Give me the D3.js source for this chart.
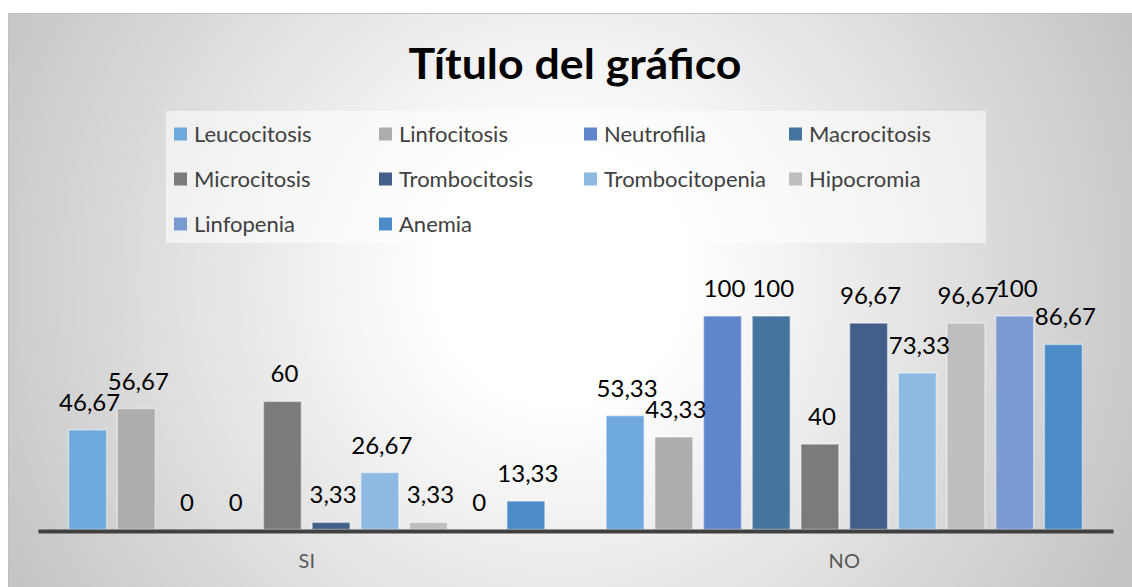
<!DOCTYPE html>
<html><head><meta charset="utf-8">
<script src="https://cdn.jsdelivr.net/npm/d3@7"></script>
<style>html,body{margin:0;padding:0;background:#fff;}svg{display:block;}</style>
</head><body>
<svg id="chart" width="1132" height="587"></svg>
<script>
const categories = ["SI", "NO"];
const seriesNames = ["Leucocitosis","Linfocitosis","Neutrofilia","Macrocitosis","Microcitosis","Trombocitosis","Trombocitopenia","Hipocromia","Linfopenia","Anemia"];
const valuesSI = [46.67, 56.67, 0, 0, 60, 3.33, 26.67, 3.33, 0, 13.33];
const valuesNO = [53.33, 43.33, 100, 100, 40, 96.67, 73.33, 96.67, 100, 86.67];
const seriesColors = ["#6FA8DC","#ADADAD","#5F86CB","#45749F","#7B7B7B","#445E8A","#8DB9E2","#BEBEBE","#7A9BD2","#4B8BC8"];
const titleText = "Título del gráfico";

const svg = d3.select("#chart");
const W = 1132, H = 587;
const font = "Lato, 'Open Sans', sans-serif";

// background
const defs = svg.append("defs");
const rg = defs.append("radialGradient").attr("id","bg").attr("gradientUnits","userSpaceOnUse")
  .attr("cx",560).attr("cy",280).attr("r",620);
rg.append("stop").attr("offset","0").attr("stop-color","#ffffff");
rg.append("stop").attr("offset","0.2").attr("stop-color","#ffffff");
rg.append("stop").attr("offset","1").attr("stop-color","#c5c5c5");
svg.append("rect").attr("x",8.5).attr("y",13.5).attr("width",W).attr("height",H)
  .attr("fill","url(#bg)").attr("stroke","#bfbfbf").attr("stroke-width",1);

// title
svg.append("text").attr("x",575).attr("y",78.5).attr("text-anchor","middle")
  .attr("font-family",font).attr("font-weight",700).attr("font-size",42).attr("fill","#000")
  .attr("textLength",333).attr("lengthAdjust","spacingAndGlyphs")
  .text(titleText);

// legend
const lg = svg.append("g");
lg.append("rect").attr("x",166).attr("y",111).attr("width",820).attr("height",132)
  .attr("fill","#ffffff").attr("fill-opacity",0.55);
const colX = [174, 379, 584, 789], rowY = [134, 179, 224];
seriesNames.forEach((n,i)=>{
  const cx = colX[i%4], cy = rowY[Math.floor(i/4)];
  lg.append("rect").attr("x",cx).attr("y",cy-6.5).attr("width",13).attr("height",13).attr("fill",seriesColors[i]);
  lg.append("text").attr("x",cx+20).attr("y",cy+7.8).attr("font-family",font).attr("font-size",22)
    .attr("fill","#404040").text(n);
});

// scales
const baseY = 529.5;
const y = d3.scaleLinear().domain([0,100]).range([baseY,316]);
const x0 = d3.scaleBand().domain(categories).range([38,1113]).paddingInner(0.094).paddingOuter(0.047);
const x1 = d3.scaleBand().domain(seriesNames).range([0,x0.bandwidth()]).paddingInner(0.22).paddingOuter(0.11);

const data = categories.map((c,ci)=>({cat:c, vals:(ci===0?valuesSI:valuesNO).map((v,i)=>({name:seriesNames[i],v,color:seriesColors[i]}))}));

const groups = svg.selectAll(".grp").data(data).join("g").attr("transform",d=>`translate(${x0(d.cat)},0)`);
groups.selectAll("rect").data(d=>d.vals).join("rect")
  .attr("x",d=>x1(d.name)).attr("width",x1.bandwidth())
  .attr("y",d=>y(d.v)).attr("height",d=>baseY-y(d.v))
  .attr("fill",d=>d.color).attr("stroke","#ffffff").attr("stroke-opacity",0.45).attr("stroke-width",1.5);

const fmt = v => (Math.round(v*100)/100).toString().replace(".",",");
groups.selectAll("text.lbl").data(d=>d.vals).join("text").attr("class","lbl")
  .attr("x",d=>x1(d.name)+x1.bandwidth()/2+2).attr("y",d=>y(d.v)-19)
  .attr("text-anchor","middle").attr("font-family",font).attr("font-size",24).attr("fill","#000")
  .text(d=>fmt(d.v));

// axis
const xAxis = d3.axisBottom(x0).tickSize(0).tickPadding(23);
const ax = svg.append("g").attr("transform",`translate(0,${baseY+1.5})`).call(xAxis);
ax.select(".domain").attr("stroke","#404040").attr("stroke-width",4);
ax.selectAll("text").attr("font-family",font).attr("font-size",20).attr("fill","#595959");
</script>
</body></html>
